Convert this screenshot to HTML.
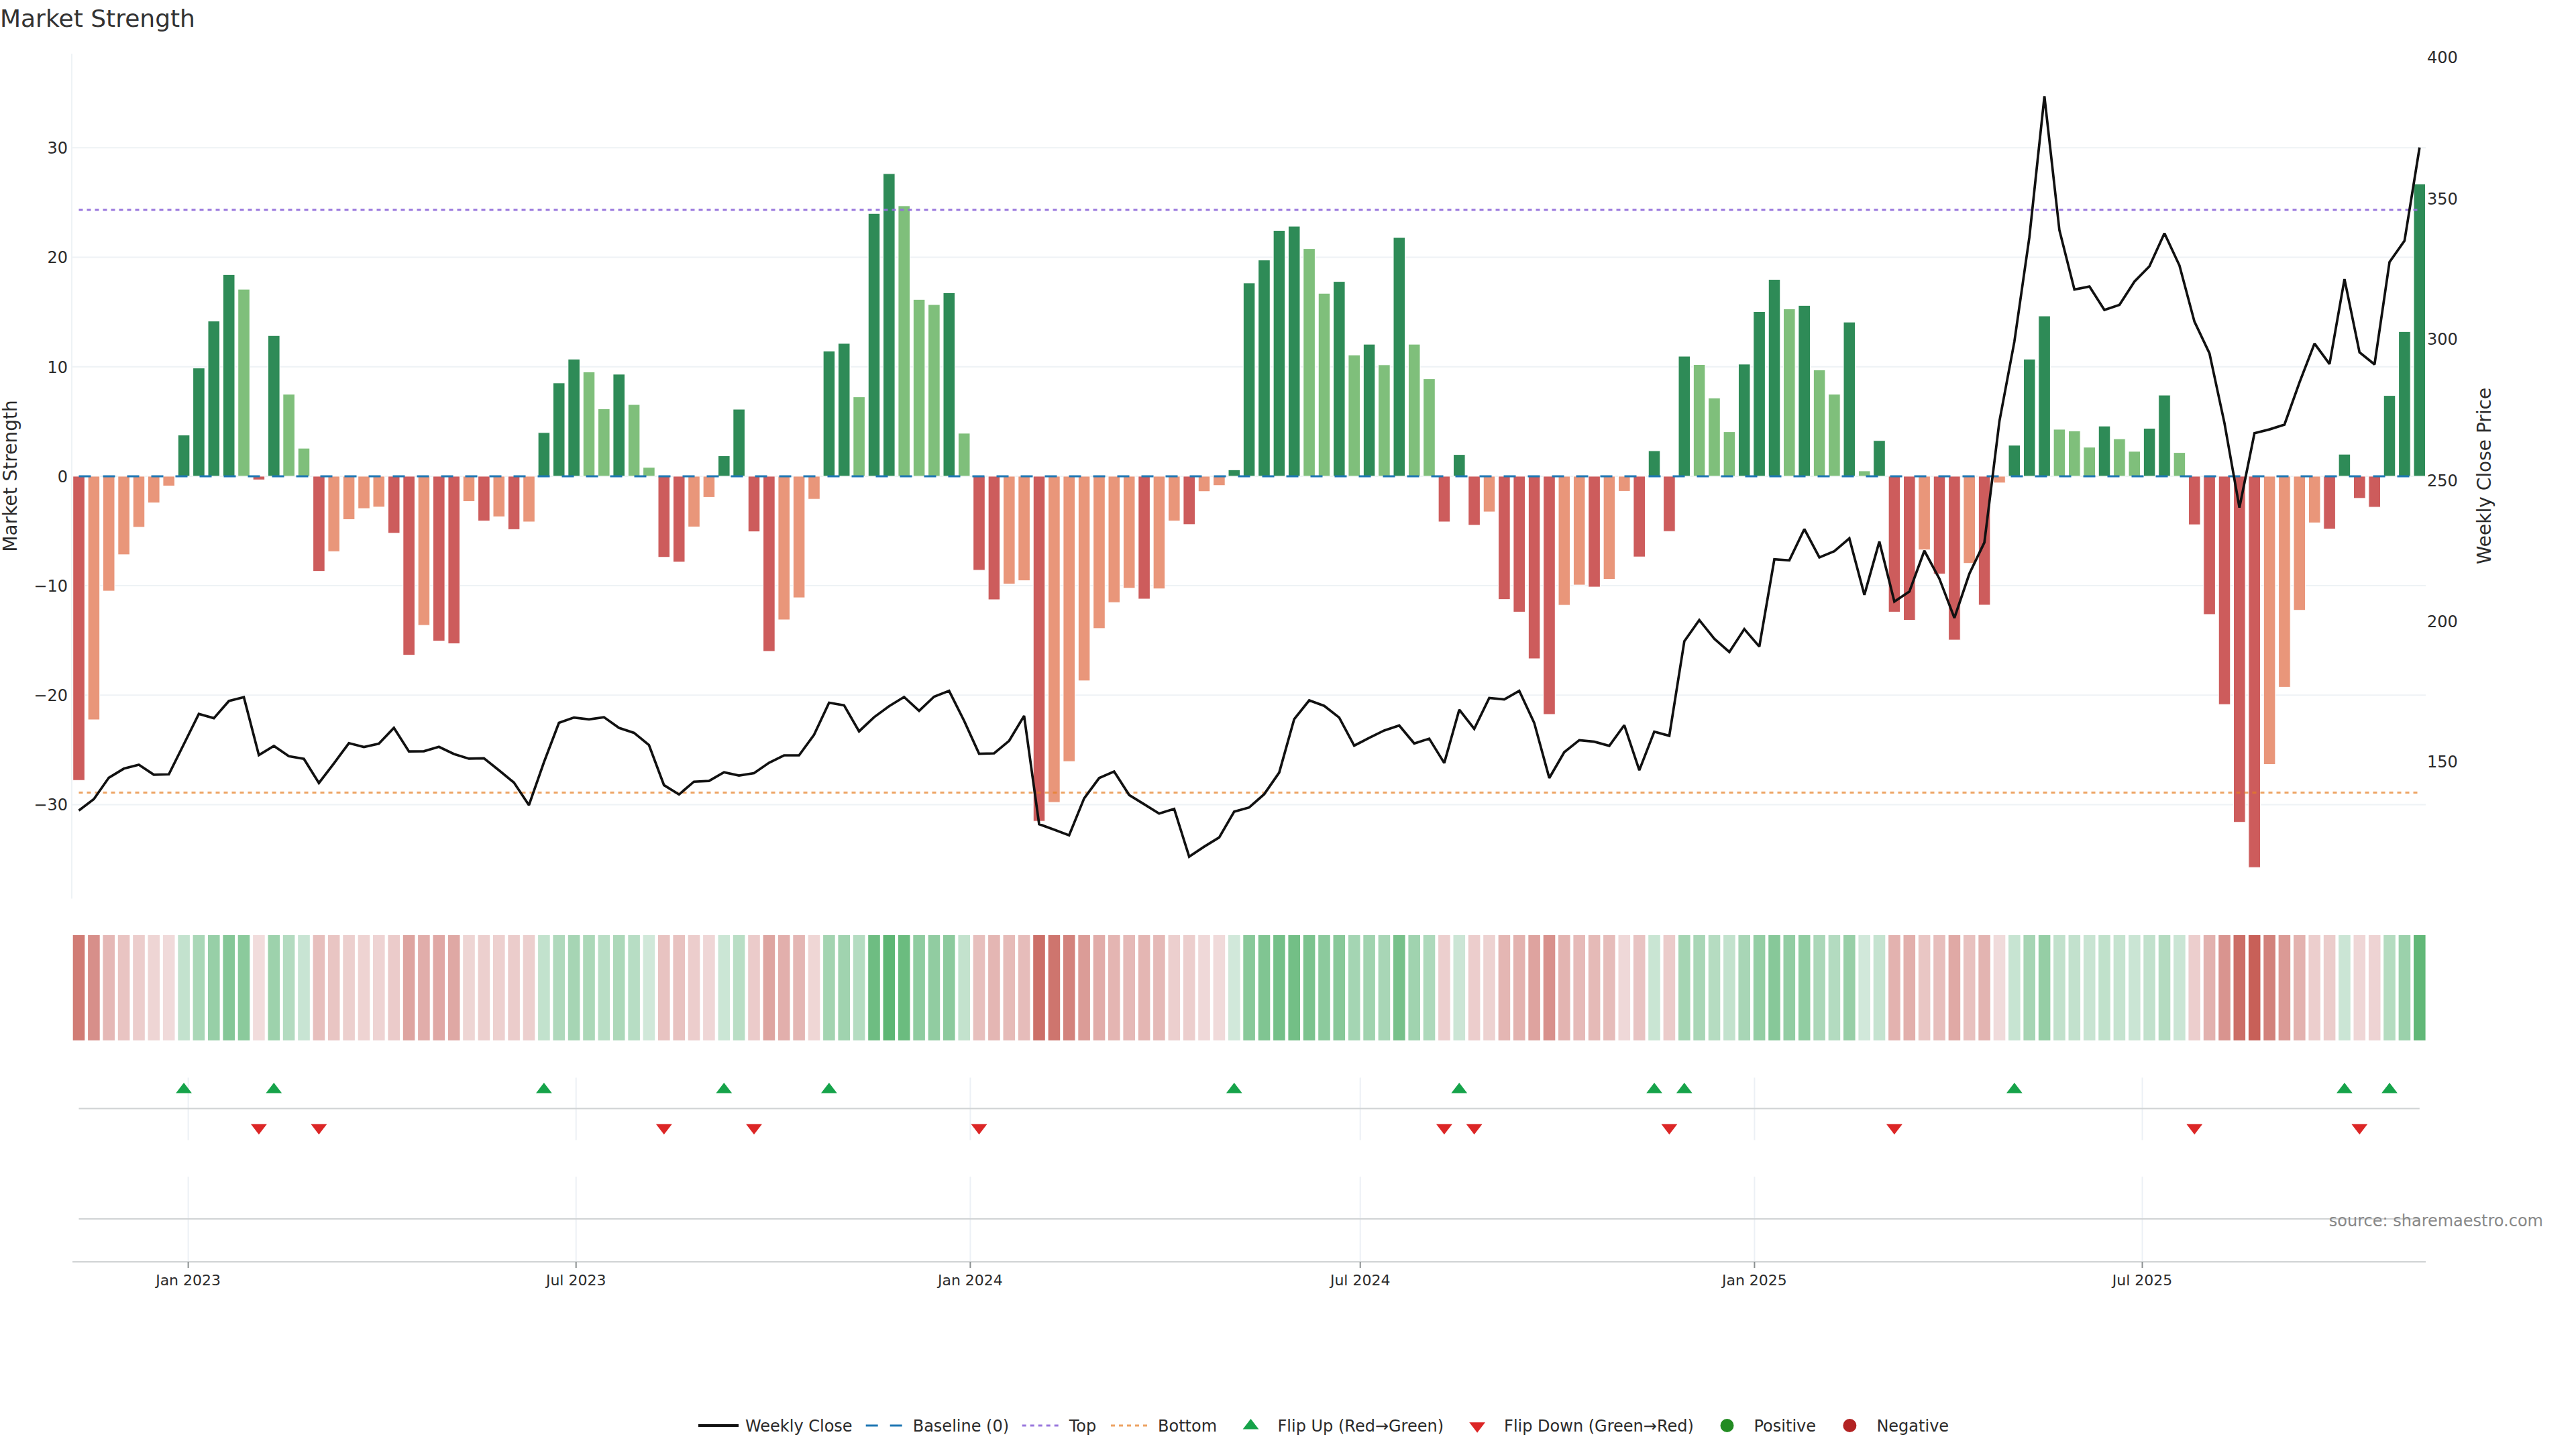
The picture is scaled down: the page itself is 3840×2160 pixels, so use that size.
<!DOCTYPE html>
<html><head><meta charset="utf-8"><title>Market Strength</title>
<style>html,body{margin:0;padding:0;background:#fff}svg{display:block}text{font-family:"DejaVu Sans","Liberation Sans",sans-serif}</style></head>
<body>
<svg width="3840" height="2160" viewBox="0 0 3840 2160">
<rect width="3840" height="2160" fill="#fff"/>
<text x="0" y="40" font-size="36" fill="#333">Market Strength</text>
<g stroke="#eef2f5" stroke-width="2">
<line x1="107" x2="3616" y1="1199.5" y2="1199.5"/>
<line x1="107" x2="3616" y1="1036.3" y2="1036.3"/>
<line x1="107" x2="3616" y1="873.1" y2="873.1"/>
<line x1="107" x2="3616" y1="709.9" y2="709.9"/>
<line x1="107" x2="3616" y1="546.7" y2="546.7"/>
<line x1="107" x2="3616" y1="383.5" y2="383.5"/>
<line x1="107" x2="3616" y1="220.3" y2="220.3"/>
<line x1="107" x2="107" y1="80" y2="1339.6"/>
</g>
<g stroke="#fff" stroke-width="1">
<rect x="108.7" y="709.9" width="17.6" height="453.4" fill="#cd5c5c"/>
<rect x="131.1" y="709.9" width="17.6" height="363.1" fill="#e9967a"/>
<rect x="153.4" y="709.9" width="17.6" height="171.2" fill="#e9967a"/>
<rect x="175.8" y="709.9" width="17.6" height="117.0" fill="#e9967a"/>
<rect x="198.2" y="709.9" width="17.6" height="76.1" fill="#e9967a"/>
<rect x="220.5" y="709.9" width="17.6" height="39.8" fill="#e9967a"/>
<rect x="242.9" y="709.9" width="17.6" height="14.5" fill="#e9967a"/>
<rect x="265.3" y="648.5" width="17.6" height="61.4" fill="#2e8b57"/>
<rect x="287.6" y="548.6" width="17.6" height="161.3" fill="#2e8b57"/>
<rect x="310.0" y="478.6" width="17.6" height="231.3" fill="#2e8b57"/>
<rect x="332.4" y="409.3" width="17.6" height="300.6" fill="#2e8b57"/>
<rect x="354.7" y="431.1" width="17.6" height="278.8" fill="#7fbf7b"/>
<rect x="377.1" y="709.9" width="17.6" height="5.4" fill="#cd5c5c"/>
<rect x="399.5" y="500.2" width="17.6" height="209.7" fill="#2e8b57"/>
<rect x="421.8" y="587.7" width="17.6" height="122.2" fill="#7fbf7b"/>
<rect x="444.2" y="668.1" width="17.6" height="41.8" fill="#7fbf7b"/>
<rect x="466.6" y="709.9" width="17.6" height="141.8" fill="#cd5c5c"/>
<rect x="488.9" y="709.9" width="17.6" height="112.3" fill="#e9967a"/>
<rect x="511.3" y="709.9" width="17.6" height="64.6" fill="#e9967a"/>
<rect x="533.7" y="709.9" width="17.6" height="48.2" fill="#e9967a"/>
<rect x="556.0" y="709.9" width="17.6" height="46.0" fill="#e9967a"/>
<rect x="578.4" y="709.9" width="17.6" height="85.0" fill="#cd5c5c"/>
<rect x="600.8" y="709.9" width="17.6" height="266.8" fill="#cd5c5c"/>
<rect x="623.1" y="709.9" width="17.6" height="222.3" fill="#e9967a"/>
<rect x="645.5" y="709.9" width="17.6" height="245.8" fill="#cd5c5c"/>
<rect x="667.9" y="709.9" width="17.6" height="249.7" fill="#cd5c5c"/>
<rect x="690.2" y="709.9" width="17.6" height="37.7" fill="#e9967a"/>
<rect x="712.6" y="709.9" width="17.6" height="66.8" fill="#cd5c5c"/>
<rect x="735.0" y="709.9" width="17.6" height="60.4" fill="#e9967a"/>
<rect x="757.3" y="709.9" width="17.6" height="79.5" fill="#cd5c5c"/>
<rect x="779.7" y="709.9" width="17.6" height="68.1" fill="#e9967a"/>
<rect x="802.1" y="644.8" width="17.6" height="65.1" fill="#2e8b57"/>
<rect x="824.4" y="570.8" width="17.6" height="139.1" fill="#2e8b57"/>
<rect x="846.8" y="535.3" width="17.6" height="174.6" fill="#2e8b57"/>
<rect x="869.2" y="554.4" width="17.6" height="155.5" fill="#7fbf7b"/>
<rect x="891.5" y="609.4" width="17.6" height="100.5" fill="#7fbf7b"/>
<rect x="913.9" y="557.8" width="17.6" height="152.1" fill="#2e8b57"/>
<rect x="936.3" y="603.0" width="17.6" height="106.9" fill="#7fbf7b"/>
<rect x="958.6" y="696.7" width="17.6" height="13.2" fill="#7fbf7b"/>
<rect x="981.0" y="709.9" width="17.6" height="120.9" fill="#cd5c5c"/>
<rect x="1003.4" y="709.9" width="17.6" height="128.0" fill="#cd5c5c"/>
<rect x="1025.7" y="709.9" width="17.6" height="75.6" fill="#e9967a"/>
<rect x="1048.1" y="709.9" width="17.6" height="31.5" fill="#e9967a"/>
<rect x="1070.5" y="679.5" width="17.6" height="30.4" fill="#2e8b57"/>
<rect x="1092.8" y="610.0" width="17.6" height="99.9" fill="#2e8b57"/>
<rect x="1115.2" y="709.9" width="17.6" height="82.8" fill="#cd5c5c"/>
<rect x="1137.6" y="709.9" width="17.6" height="261.1" fill="#cd5c5c"/>
<rect x="1159.9" y="709.9" width="17.6" height="214.1" fill="#e9967a"/>
<rect x="1182.3" y="709.9" width="17.6" height="181.2" fill="#e9967a"/>
<rect x="1204.7" y="709.9" width="17.6" height="34.3" fill="#e9967a"/>
<rect x="1227.1" y="523.2" width="17.6" height="186.7" fill="#2e8b57"/>
<rect x="1249.4" y="511.9" width="17.6" height="198.0" fill="#2e8b57"/>
<rect x="1271.8" y="591.6" width="17.6" height="118.3" fill="#7fbf7b"/>
<rect x="1294.2" y="318.2" width="17.6" height="391.7" fill="#2e8b57"/>
<rect x="1316.5" y="258.8" width="17.6" height="451.1" fill="#2e8b57"/>
<rect x="1338.9" y="306.8" width="17.6" height="403.1" fill="#7fbf7b"/>
<rect x="1361.3" y="446.3" width="17.6" height="263.6" fill="#7fbf7b"/>
<rect x="1383.6" y="454.0" width="17.6" height="255.9" fill="#7fbf7b"/>
<rect x="1406.0" y="436.5" width="17.6" height="273.4" fill="#2e8b57"/>
<rect x="1428.4" y="645.8" width="17.6" height="64.1" fill="#7fbf7b"/>
<rect x="1450.7" y="709.9" width="17.6" height="140.2" fill="#cd5c5c"/>
<rect x="1473.1" y="709.9" width="17.6" height="184.1" fill="#cd5c5c"/>
<rect x="1495.5" y="709.9" width="17.6" height="160.8" fill="#e9967a"/>
<rect x="1517.8" y="709.9" width="17.6" height="155.7" fill="#e9967a"/>
<rect x="1540.2" y="709.9" width="17.6" height="514.3" fill="#cd5c5c"/>
<rect x="1562.6" y="709.9" width="17.6" height="486.2" fill="#e9967a"/>
<rect x="1584.9" y="709.9" width="17.6" height="425.3" fill="#e9967a"/>
<rect x="1607.3" y="709.9" width="17.6" height="305.0" fill="#e9967a"/>
<rect x="1629.7" y="709.9" width="17.6" height="227.0" fill="#e9967a"/>
<rect x="1652.0" y="709.9" width="17.6" height="188.3" fill="#e9967a"/>
<rect x="1674.4" y="709.9" width="17.6" height="167.0" fill="#e9967a"/>
<rect x="1696.8" y="709.9" width="17.6" height="183.1" fill="#cd5c5c"/>
<rect x="1719.1" y="709.9" width="17.6" height="167.9" fill="#e9967a"/>
<rect x="1741.5" y="709.9" width="17.6" height="66.8" fill="#e9967a"/>
<rect x="1763.9" y="709.9" width="17.6" height="72.0" fill="#cd5c5c"/>
<rect x="1786.2" y="709.9" width="17.6" height="22.9" fill="#e9967a"/>
<rect x="1808.6" y="709.9" width="17.6" height="13.9" fill="#e9967a"/>
<rect x="1831.0" y="700.3" width="17.6" height="9.6" fill="#2e8b57"/>
<rect x="1853.3" y="421.8" width="17.6" height="288.1" fill="#2e8b57"/>
<rect x="1875.7" y="387.6" width="17.6" height="322.3" fill="#2e8b57"/>
<rect x="1898.1" y="343.5" width="17.6" height="366.4" fill="#2e8b57"/>
<rect x="1920.4" y="337.1" width="17.6" height="372.8" fill="#2e8b57"/>
<rect x="1942.8" y="370.6" width="17.6" height="339.3" fill="#7fbf7b"/>
<rect x="1965.2" y="437.2" width="17.6" height="272.7" fill="#7fbf7b"/>
<rect x="1987.5" y="419.6" width="17.6" height="290.3" fill="#2e8b57"/>
<rect x="2009.9" y="529.1" width="17.6" height="180.8" fill="#7fbf7b"/>
<rect x="2032.3" y="513.1" width="17.6" height="196.8" fill="#2e8b57"/>
<rect x="2054.6" y="543.8" width="17.6" height="166.1" fill="#7fbf7b"/>
<rect x="2077.0" y="354.0" width="17.6" height="355.9" fill="#2e8b57"/>
<rect x="2099.4" y="513.1" width="17.6" height="196.8" fill="#7fbf7b"/>
<rect x="2121.7" y="564.6" width="17.6" height="145.3" fill="#7fbf7b"/>
<rect x="2144.1" y="709.9" width="17.6" height="68.1" fill="#cd5c5c"/>
<rect x="2166.5" y="677.6" width="17.6" height="32.3" fill="#2e8b57"/>
<rect x="2188.8" y="709.9" width="17.6" height="73.1" fill="#cd5c5c"/>
<rect x="2211.2" y="709.9" width="17.6" height="53.2" fill="#e9967a"/>
<rect x="2233.6" y="709.9" width="17.6" height="183.8" fill="#cd5c5c"/>
<rect x="2255.9" y="709.9" width="17.6" height="202.5" fill="#cd5c5c"/>
<rect x="2278.3" y="709.9" width="17.6" height="272.1" fill="#cd5c5c"/>
<rect x="2300.7" y="709.9" width="17.6" height="355.1" fill="#cd5c5c"/>
<rect x="2323.0" y="709.9" width="17.6" height="192.3" fill="#e9967a"/>
<rect x="2345.4" y="709.9" width="17.6" height="162.2" fill="#e9967a"/>
<rect x="2367.8" y="709.9" width="17.6" height="165.2" fill="#cd5c5c"/>
<rect x="2390.1" y="709.9" width="17.6" height="153.7" fill="#e9967a"/>
<rect x="2412.5" y="709.9" width="17.6" height="22.5" fill="#e9967a"/>
<rect x="2434.9" y="709.9" width="17.6" height="120.3" fill="#cd5c5c"/>
<rect x="2457.2" y="671.9" width="17.6" height="38.0" fill="#2e8b57"/>
<rect x="2479.6" y="709.9" width="17.6" height="82.3" fill="#cd5c5c"/>
<rect x="2502.0" y="531.0" width="17.6" height="178.9" fill="#2e8b57"/>
<rect x="2524.3" y="543.4" width="17.6" height="166.5" fill="#7fbf7b"/>
<rect x="2546.7" y="593.2" width="17.6" height="116.7" fill="#7fbf7b"/>
<rect x="2569.1" y="643.6" width="17.6" height="66.3" fill="#7fbf7b"/>
<rect x="2591.4" y="542.8" width="17.6" height="167.1" fill="#2e8b57"/>
<rect x="2613.8" y="464.4" width="17.6" height="245.5" fill="#2e8b57"/>
<rect x="2636.2" y="416.5" width="17.6" height="293.4" fill="#2e8b57"/>
<rect x="2658.5" y="460.4" width="17.6" height="249.5" fill="#7fbf7b"/>
<rect x="2680.9" y="455.3" width="17.6" height="254.6" fill="#2e8b57"/>
<rect x="2703.3" y="551.4" width="17.6" height="158.5" fill="#7fbf7b"/>
<rect x="2725.6" y="587.7" width="17.6" height="122.2" fill="#7fbf7b"/>
<rect x="2748.0" y="480.1" width="17.6" height="229.8" fill="#2e8b57"/>
<rect x="2770.4" y="701.9" width="17.6" height="8.0" fill="#7fbf7b"/>
<rect x="2792.7" y="656.7" width="17.6" height="53.2" fill="#2e8b57"/>
<rect x="2815.1" y="709.9" width="17.6" height="202.5" fill="#cd5c5c"/>
<rect x="2837.5" y="709.9" width="17.6" height="214.6" fill="#cd5c5c"/>
<rect x="2859.8" y="709.9" width="17.6" height="109.8" fill="#e9967a"/>
<rect x="2882.2" y="709.9" width="17.6" height="145.9" fill="#cd5c5c"/>
<rect x="2904.6" y="709.9" width="17.6" height="244.2" fill="#cd5c5c"/>
<rect x="2926.9" y="709.9" width="17.6" height="129.9" fill="#e9967a"/>
<rect x="2949.3" y="709.9" width="17.6" height="192.1" fill="#cd5c5c"/>
<rect x="2971.7" y="709.9" width="17.6" height="10.0" fill="#e9967a"/>
<rect x="2994.0" y="663.7" width="17.6" height="46.2" fill="#2e8b57"/>
<rect x="3016.4" y="535.3" width="17.6" height="174.6" fill="#2e8b57"/>
<rect x="3038.8" y="471.0" width="17.6" height="238.9" fill="#2e8b57"/>
<rect x="3061.1" y="639.9" width="17.6" height="70.0" fill="#7fbf7b"/>
<rect x="3083.5" y="642.3" width="17.6" height="67.6" fill="#7fbf7b"/>
<rect x="3105.9" y="666.6" width="17.6" height="43.3" fill="#7fbf7b"/>
<rect x="3128.2" y="635.1" width="17.6" height="74.8" fill="#2e8b57"/>
<rect x="3150.6" y="654.1" width="17.6" height="55.8" fill="#7fbf7b"/>
<rect x="3173.0" y="672.8" width="17.6" height="37.1" fill="#7fbf7b"/>
<rect x="3195.3" y="638.4" width="17.6" height="71.5" fill="#2e8b57"/>
<rect x="3217.7" y="589.0" width="17.6" height="120.9" fill="#2e8b57"/>
<rect x="3240.1" y="674.6" width="17.6" height="35.3" fill="#7fbf7b"/>
<rect x="3262.4" y="709.9" width="17.6" height="72.3" fill="#cd5c5c"/>
<rect x="3284.8" y="709.9" width="17.6" height="206.1" fill="#cd5c5c"/>
<rect x="3307.2" y="709.9" width="17.6" height="340.3" fill="#cd5c5c"/>
<rect x="3329.5" y="709.9" width="17.6" height="515.9" fill="#cd5c5c"/>
<rect x="3351.9" y="709.9" width="17.6" height="583.3" fill="#cd5c5c"/>
<rect x="3374.3" y="709.9" width="17.6" height="429.7" fill="#e9967a"/>
<rect x="3396.6" y="709.9" width="17.6" height="314.5" fill="#e9967a"/>
<rect x="3419.0" y="709.9" width="17.6" height="199.9" fill="#e9967a"/>
<rect x="3441.4" y="709.9" width="17.6" height="69.5" fill="#e9967a"/>
<rect x="3463.8" y="709.9" width="17.6" height="78.8" fill="#cd5c5c"/>
<rect x="3486.1" y="677.1" width="17.6" height="32.8" fill="#2e8b57"/>
<rect x="3508.5" y="709.9" width="17.6" height="33.0" fill="#cd5c5c"/>
<rect x="3530.9" y="709.9" width="17.6" height="46.2" fill="#cd5c5c"/>
<rect x="3553.2" y="589.6" width="17.6" height="120.3" fill="#2e8b57"/>
<rect x="3575.6" y="494.3" width="17.6" height="215.6" fill="#2e8b57"/>
<rect x="3598.0" y="274.1" width="17.6" height="435.8" fill="#2e8b57"/>
</g>
<line x1="117.5" x2="3606.8" y1="709.9" y2="709.9" stroke="#1f77b4" stroke-width="3" stroke-dasharray="18 18"/>
<line x1="117.5" x2="3606.8" y1="312.8" y2="312.8" stroke="#9370db" stroke-opacity="0.95" stroke-width="3" stroke-dasharray="6 6"/>
<line x1="117.5" x2="3606.8" y1="1181.6" y2="1181.6" stroke="#e67e22" stroke-opacity="0.7" stroke-width="3" stroke-dasharray="6 6"/>
<polyline points="117.5,1208.2 139.9,1191.3 162.2,1159.3 184.6,1145.8 207.0,1139.9 229.3,1154.8 251.7,1154.3 274.1,1109.3 296.4,1064.1 318.8,1070.6 341.2,1045.0 363.5,1039.3 385.9,1125.7 408.3,1112.0 430.6,1127.2 453.0,1131.2 475.4,1167.2 497.7,1138.1 520.1,1107.8 542.5,1113.5 564.8,1108.6 587.2,1085.0 609.6,1120.2 631.9,1119.8 654.3,1113.3 676.7,1124.0 699.0,1130.9 721.4,1130.4 743.8,1148.3 766.1,1166.5 788.5,1200.2 810.9,1136.1 833.2,1077.5 855.6,1069.6 878.0,1072.3 900.3,1069.1 922.7,1085.0 945.1,1092.4 967.4,1110.6 989.8,1170.4 1012.2,1184.3 1034.5,1165.2 1056.9,1164.2 1079.3,1151.1 1101.6,1156.0 1124.0,1152.5 1146.4,1137.1 1168.7,1126.0 1191.1,1126.0 1213.5,1095.4 1235.9,1047.5 1258.2,1051.4 1280.6,1090.2 1303.0,1069.1 1325.3,1052.7 1347.7,1039.0 1370.1,1059.6 1392.4,1038.5 1414.8,1029.8 1437.2,1074.5 1459.5,1123.5 1481.9,1123.0 1504.3,1104.3 1526.6,1067.1 1549.0,1228.6 1571.4,1236.8 1593.7,1245.2 1616.1,1190.1 1638.5,1159.8 1660.8,1150.1 1683.2,1185.1 1705.6,1198.8 1727.9,1212.7 1750.3,1205.7 1772.7,1277.0 1795.0,1262.1 1817.4,1248.4 1839.8,1209.9 1862.1,1203.7 1884.5,1183.9 1906.9,1151.6 1929.2,1072.0 1951.6,1044.0 1974.0,1052.2 1996.3,1069.6 2018.7,1111.5 2041.1,1099.9 2063.4,1088.9 2085.8,1081.5 2108.2,1108.3 2130.5,1101.1 2152.9,1137.4 2175.3,1057.9 2197.6,1086.5 2220.0,1040.5 2242.4,1042.5 2264.7,1029.8 2287.1,1077.8 2309.5,1159.8 2331.8,1121.2 2354.2,1103.4 2376.6,1105.6 2398.9,1111.8 2421.3,1081.0 2443.7,1148.1 2466.0,1090.7 2488.4,1096.9 2510.8,955.9 2533.1,924.3 2555.5,952.2 2577.9,972.0 2600.2,937.8 2622.6,963.9 2645.0,833.7 2667.3,835.4 2689.7,788.7 2712.1,830.9 2734.4,821.7 2756.8,802.6 2779.2,886.8 2801.5,807.3 2823.9,896.8 2846.3,881.9 2868.6,821.0 2891.0,862.7 2913.4,921.1 2935.7,855.3 2958.1,808.6 2980.5,628.0 3002.8,509.3 3025.2,353.3 3047.6,143.4 3069.9,342.9 3092.3,431.6 3114.7,427.1 3137.0,462.0 3159.4,454.5 3181.8,419.7 3204.1,397.0 3226.5,347.8 3248.9,395.8 3271.2,479.4 3293.6,526.6 3316.0,630.9 3338.3,756.6 3360.7,645.8 3383.1,640.1 3405.4,632.9 3427.8,570.1 3450.2,512.2 3472.6,542.7 3494.9,416.0 3517.3,525.3 3539.7,543.2 3562.0,390.8 3584.4,358.9 3606.8,219.9" fill="none" stroke="#111" stroke-width="3.7" stroke-linejoin="miter" stroke-miterlimit="2" stroke-linecap="butt"/>
<g font-size="24" fill="#2b2b2b" text-anchor="end">
<text x="101" y="1208.3">−30</text>
<text x="101" y="1045.1">−20</text>
<text x="101" y="881.9">−10</text>
<text x="101" y="718.7">0</text>
<text x="101" y="555.5">10</text>
<text x="101" y="392.3">20</text>
<text x="101" y="229.1">30</text>
</g>
<g font-size="24" fill="#2b2b2b">
<text x="3618" y="93.8">400</text>
<text x="3618" y="305.1">350</text>
<text x="3618" y="514.3">300</text>
<text x="3618" y="724.9">250</text>
<text x="3618" y="934.8">200</text>
<text x="3618" y="1144.4">150</text>
</g>
<text transform="translate(25,709.5) rotate(-90)" font-size="28" fill="#2b2b2b" text-anchor="middle">Market Strength</text>
<text transform="translate(3713,709.5) rotate(-90)" font-size="28" fill="#2b2b2b" text-anchor="middle">Weekly Close Price</text>
<g>
<rect x="108.7" y="1394" width="17.6" height="156.9" fill="rgb(209,124,117)"/>
<rect x="131.1" y="1394" width="17.6" height="156.9" fill="rgb(215,143,138)"/>
<rect x="153.4" y="1394" width="17.6" height="156.9" fill="rgb(229,184,182)"/>
<rect x="175.8" y="1394" width="17.6" height="156.9" fill="rgb(233,196,194)"/>
<rect x="198.2" y="1394" width="17.6" height="156.9" fill="rgb(236,205,204)"/>
<rect x="220.5" y="1394" width="17.6" height="156.9" fill="rgb(238,213,212)"/>
<rect x="242.9" y="1394" width="17.6" height="156.9" fill="rgb(240,218,218)"/>
<rect x="265.3" y="1394" width="17.6" height="156.9" fill="rgb(195,226,206)"/>
<rect x="287.6" y="1394" width="17.6" height="156.9" fill="rgb(169,215,183)"/>
<rect x="310.0" y="1394" width="17.6" height="156.9" fill="rgb(151,207,167)"/>
<rect x="332.4" y="1394" width="17.6" height="156.9" fill="rgb(133,199,151)"/>
<rect x="354.7" y="1394" width="17.6" height="156.9" fill="rgb(139,202,156)"/>
<rect x="377.1" y="1394" width="17.6" height="156.9" fill="rgb(241,220,220)"/>
<rect x="399.5" y="1394" width="17.6" height="156.9" fill="rgb(157,210,172)"/>
<rect x="421.8" y="1394" width="17.6" height="156.9" fill="rgb(179,219,192)"/>
<rect x="444.2" y="1394" width="17.6" height="156.9" fill="rgb(200,228,211)"/>
<rect x="466.6" y="1394" width="17.6" height="156.9" fill="rgb(231,191,189)"/>
<rect x="488.9" y="1394" width="17.6" height="156.9" fill="rgb(233,197,195)"/>
<rect x="511.3" y="1394" width="17.6" height="156.9" fill="rgb(236,207,206)"/>
<rect x="533.7" y="1394" width="17.6" height="156.9" fill="rgb(238,211,210)"/>
<rect x="556.0" y="1394" width="17.6" height="156.9" fill="rgb(238,211,211)"/>
<rect x="578.4" y="1394" width="17.6" height="156.9" fill="rgb(235,203,202)"/>
<rect x="600.8" y="1394" width="17.6" height="156.9" fill="rgb(222,164,160)"/>
<rect x="623.1" y="1394" width="17.6" height="156.9" fill="rgb(225,173,170)"/>
<rect x="645.5" y="1394" width="17.6" height="156.9" fill="rgb(224,168,165)"/>
<rect x="667.9" y="1394" width="17.6" height="156.9" fill="rgb(223,168,164)"/>
<rect x="690.2" y="1394" width="17.6" height="156.9" fill="rgb(238,213,212)"/>
<rect x="712.6" y="1394" width="17.6" height="156.9" fill="rgb(236,207,206)"/>
<rect x="735.0" y="1394" width="17.6" height="156.9" fill="rgb(237,208,207)"/>
<rect x="757.3" y="1394" width="17.6" height="156.9" fill="rgb(235,204,203)"/>
<rect x="779.7" y="1394" width="17.6" height="156.9" fill="rgb(236,207,206)"/>
<rect x="802.1" y="1394" width="17.6" height="156.9" fill="rgb(194,226,205)"/>
<rect x="824.4" y="1394" width="17.6" height="156.9" fill="rgb(175,217,188)"/>
<rect x="846.8" y="1394" width="17.6" height="156.9" fill="rgb(166,213,180)"/>
<rect x="869.2" y="1394" width="17.6" height="156.9" fill="rgb(171,216,184)"/>
<rect x="891.5" y="1394" width="17.6" height="156.9" fill="rgb(185,222,197)"/>
<rect x="913.9" y="1394" width="17.6" height="156.9" fill="rgb(172,216,185)"/>
<rect x="936.3" y="1394" width="17.6" height="156.9" fill="rgb(183,221,196)"/>
<rect x="958.6" y="1394" width="17.6" height="156.9" fill="rgb(208,232,217)"/>
<rect x="981.0" y="1394" width="17.6" height="156.9" fill="rgb(232,195,193)"/>
<rect x="1003.4" y="1394" width="17.6" height="156.9" fill="rgb(232,194,192)"/>
<rect x="1025.7" y="1394" width="17.6" height="156.9" fill="rgb(236,205,204)"/>
<rect x="1048.1" y="1394" width="17.6" height="156.9" fill="rgb(239,214,214)"/>
<rect x="1070.5" y="1394" width="17.6" height="156.9" fill="rgb(203,230,213)"/>
<rect x="1092.8" y="1394" width="17.6" height="156.9" fill="rgb(185,222,197)"/>
<rect x="1115.2" y="1394" width="17.6" height="156.9" fill="rgb(235,203,202)"/>
<rect x="1137.6" y="1394" width="17.6" height="156.9" fill="rgb(222,165,161)"/>
<rect x="1159.9" y="1394" width="17.6" height="156.9" fill="rgb(226,175,172)"/>
<rect x="1182.3" y="1394" width="17.6" height="156.9" fill="rgb(228,182,180)"/>
<rect x="1204.7" y="1394" width="17.6" height="156.9" fill="rgb(239,214,213)"/>
<rect x="1227.1" y="1394" width="17.6" height="156.9" fill="rgb(163,212,177)"/>
<rect x="1249.4" y="1394" width="17.6" height="156.9" fill="rgb(160,211,175)"/>
<rect x="1271.8" y="1394" width="17.6" height="156.9" fill="rgb(180,220,193)"/>
<rect x="1294.2" y="1394" width="17.6" height="156.9" fill="rgb(110,189,130)"/>
<rect x="1316.5" y="1394" width="17.6" height="156.9" fill="rgb(94,182,116)"/>
<rect x="1338.9" y="1394" width="17.6" height="156.9" fill="rgb(107,188,127)"/>
<rect x="1361.3" y="1394" width="17.6" height="156.9" fill="rgb(143,204,160)"/>
<rect x="1383.6" y="1394" width="17.6" height="156.9" fill="rgb(145,204,161)"/>
<rect x="1406.0" y="1394" width="17.6" height="156.9" fill="rgb(140,202,157)"/>
<rect x="1428.4" y="1394" width="17.6" height="156.9" fill="rgb(195,226,205)"/>
<rect x="1450.7" y="1394" width="17.6" height="156.9" fill="rgb(231,191,189)"/>
<rect x="1473.1" y="1394" width="17.6" height="156.9" fill="rgb(228,182,179)"/>
<rect x="1495.5" y="1394" width="17.6" height="156.9" fill="rgb(230,187,184)"/>
<rect x="1517.8" y="1394" width="17.6" height="156.9" fill="rgb(230,188,186)"/>
<rect x="1540.2" y="1394" width="17.6" height="156.9" fill="rgb(204,111,104)"/>
<rect x="1562.6" y="1394" width="17.6" height="156.9" fill="rgb(206,117,110)"/>
<rect x="1584.9" y="1394" width="17.6" height="156.9" fill="rgb(211,130,124)"/>
<rect x="1607.3" y="1394" width="17.6" height="156.9" fill="rgb(219,156,151)"/>
<rect x="1629.7" y="1394" width="17.6" height="156.9" fill="rgb(225,172,169)"/>
<rect x="1652.0" y="1394" width="17.6" height="156.9" fill="rgb(228,181,178)"/>
<rect x="1674.4" y="1394" width="17.6" height="156.9" fill="rgb(229,185,183)"/>
<rect x="1696.8" y="1394" width="17.6" height="156.9" fill="rgb(228,182,179)"/>
<rect x="1719.1" y="1394" width="17.6" height="156.9" fill="rgb(229,185,183)"/>
<rect x="1741.5" y="1394" width="17.6" height="156.9" fill="rgb(236,207,206)"/>
<rect x="1763.9" y="1394" width="17.6" height="156.9" fill="rgb(236,206,205)"/>
<rect x="1786.2" y="1394" width="17.6" height="156.9" fill="rgb(239,216,216)"/>
<rect x="1808.6" y="1394" width="17.6" height="156.9" fill="rgb(240,218,218)"/>
<rect x="1831.0" y="1394" width="17.6" height="156.9" fill="rgb(209,232,218)"/>
<rect x="1853.3" y="1394" width="17.6" height="156.9" fill="rgb(136,201,154)"/>
<rect x="1875.7" y="1394" width="17.6" height="156.9" fill="rgb(128,197,146)"/>
<rect x="1898.1" y="1394" width="17.6" height="156.9" fill="rgb(116,192,136)"/>
<rect x="1920.4" y="1394" width="17.6" height="156.9" fill="rgb(115,191,134)"/>
<rect x="1942.8" y="1394" width="17.6" height="156.9" fill="rgb(123,195,142)"/>
<rect x="1965.2" y="1394" width="17.6" height="156.9" fill="rgb(140,202,157)"/>
<rect x="1987.5" y="1394" width="17.6" height="156.9" fill="rgb(136,200,153)"/>
<rect x="2009.9" y="1394" width="17.6" height="156.9" fill="rgb(164,213,179)"/>
<rect x="2032.3" y="1394" width="17.6" height="156.9" fill="rgb(160,211,175)"/>
<rect x="2054.6" y="1394" width="17.6" height="156.9" fill="rgb(168,214,182)"/>
<rect x="2077.0" y="1394" width="17.6" height="156.9" fill="rgb(119,193,138)"/>
<rect x="2099.4" y="1394" width="17.6" height="156.9" fill="rgb(160,211,175)"/>
<rect x="2121.7" y="1394" width="17.6" height="156.9" fill="rgb(173,217,187)"/>
<rect x="2144.1" y="1394" width="17.6" height="156.9" fill="rgb(236,207,206)"/>
<rect x="2166.5" y="1394" width="17.6" height="156.9" fill="rgb(203,229,213)"/>
<rect x="2188.8" y="1394" width="17.6" height="156.9" fill="rgb(236,205,204)"/>
<rect x="2211.2" y="1394" width="17.6" height="156.9" fill="rgb(237,210,209)"/>
<rect x="2233.6" y="1394" width="17.6" height="156.9" fill="rgb(228,182,179)"/>
<rect x="2255.9" y="1394" width="17.6" height="156.9" fill="rgb(227,178,175)"/>
<rect x="2278.3" y="1394" width="17.6" height="156.9" fill="rgb(222,163,159)"/>
<rect x="2300.7" y="1394" width="17.6" height="156.9" fill="rgb(216,145,140)"/>
<rect x="2323.0" y="1394" width="17.6" height="156.9" fill="rgb(227,180,177)"/>
<rect x="2345.4" y="1394" width="17.6" height="156.9" fill="rgb(230,186,184)"/>
<rect x="2367.8" y="1394" width="17.6" height="156.9" fill="rgb(229,186,183)"/>
<rect x="2390.1" y="1394" width="17.6" height="156.9" fill="rgb(230,188,186)"/>
<rect x="2412.5" y="1394" width="17.6" height="156.9" fill="rgb(239,216,216)"/>
<rect x="2434.9" y="1394" width="17.6" height="156.9" fill="rgb(232,195,194)"/>
<rect x="2457.2" y="1394" width="17.6" height="156.9" fill="rgb(201,229,211)"/>
<rect x="2479.6" y="1394" width="17.6" height="156.9" fill="rgb(235,203,202)"/>
<rect x="2502.0" y="1394" width="17.6" height="156.9" fill="rgb(165,213,179)"/>
<rect x="2524.3" y="1394" width="17.6" height="156.9" fill="rgb(168,214,182)"/>
<rect x="2546.7" y="1394" width="17.6" height="156.9" fill="rgb(181,220,193)"/>
<rect x="2569.1" y="1394" width="17.6" height="156.9" fill="rgb(194,226,205)"/>
<rect x="2591.4" y="1394" width="17.6" height="156.9" fill="rgb(168,214,182)"/>
<rect x="2613.8" y="1394" width="17.6" height="156.9" fill="rgb(148,206,164)"/>
<rect x="2636.2" y="1394" width="17.6" height="156.9" fill="rgb(135,200,153)"/>
<rect x="2658.5" y="1394" width="17.6" height="156.9" fill="rgb(146,205,163)"/>
<rect x="2680.9" y="1394" width="17.6" height="156.9" fill="rgb(145,205,162)"/>
<rect x="2703.3" y="1394" width="17.6" height="156.9" fill="rgb(170,215,184)"/>
<rect x="2725.6" y="1394" width="17.6" height="156.9" fill="rgb(179,219,192)"/>
<rect x="2748.0" y="1394" width="17.6" height="156.9" fill="rgb(152,207,167)"/>
<rect x="2770.4" y="1394" width="17.6" height="156.9" fill="rgb(209,232,218)"/>
<rect x="2792.7" y="1394" width="17.6" height="156.9" fill="rgb(197,227,208)"/>
<rect x="2815.1" y="1394" width="17.6" height="156.9" fill="rgb(227,178,175)"/>
<rect x="2837.5" y="1394" width="17.6" height="156.9" fill="rgb(226,175,172)"/>
<rect x="2859.8" y="1394" width="17.6" height="156.9" fill="rgb(233,198,196)"/>
<rect x="2882.2" y="1394" width="17.6" height="156.9" fill="rgb(231,190,188)"/>
<rect x="2904.6" y="1394" width="17.6" height="156.9" fill="rgb(224,169,165)"/>
<rect x="2926.9" y="1394" width="17.6" height="156.9" fill="rgb(232,193,191)"/>
<rect x="2949.3" y="1394" width="17.6" height="156.9" fill="rgb(227,180,177)"/>
<rect x="2971.7" y="1394" width="17.6" height="156.9" fill="rgb(240,219,219)"/>
<rect x="2994.0" y="1394" width="17.6" height="156.9" fill="rgb(199,228,210)"/>
<rect x="3016.4" y="1394" width="17.6" height="156.9" fill="rgb(166,213,180)"/>
<rect x="3038.8" y="1394" width="17.6" height="156.9" fill="rgb(149,206,165)"/>
<rect x="3061.1" y="1394" width="17.6" height="156.9" fill="rgb(193,225,204)"/>
<rect x="3083.5" y="1394" width="17.6" height="156.9" fill="rgb(194,225,205)"/>
<rect x="3105.9" y="1394" width="17.6" height="156.9" fill="rgb(200,228,210)"/>
<rect x="3128.2" y="1394" width="17.6" height="156.9" fill="rgb(192,225,203)"/>
<rect x="3150.6" y="1394" width="17.6" height="156.9" fill="rgb(197,227,207)"/>
<rect x="3173.0" y="1394" width="17.6" height="156.9" fill="rgb(202,229,212)"/>
<rect x="3195.3" y="1394" width="17.6" height="156.9" fill="rgb(193,225,204)"/>
<rect x="3217.7" y="1394" width="17.6" height="156.9" fill="rgb(180,219,192)"/>
<rect x="3240.1" y="1394" width="17.6" height="156.9" fill="rgb(202,229,212)"/>
<rect x="3262.4" y="1394" width="17.6" height="156.9" fill="rgb(236,206,205)"/>
<rect x="3284.8" y="1394" width="17.6" height="156.9" fill="rgb(226,177,174)"/>
<rect x="3307.2" y="1394" width="17.6" height="156.9" fill="rgb(217,148,143)"/>
<rect x="3329.5" y="1394" width="17.6" height="156.9" fill="rgb(204,110,103)"/>
<rect x="3351.9" y="1394" width="17.6" height="156.9" fill="rgb(200,96,88)"/>
<rect x="3374.3" y="1394" width="17.6" height="156.9" fill="rgb(210,129,123)"/>
<rect x="3396.6" y="1394" width="17.6" height="156.9" fill="rgb(219,154,149)"/>
<rect x="3419.0" y="1394" width="17.6" height="156.9" fill="rgb(227,178,175)"/>
<rect x="3441.4" y="1394" width="17.6" height="156.9" fill="rgb(236,206,205)"/>
<rect x="3463.8" y="1394" width="17.6" height="156.9" fill="rgb(235,204,203)"/>
<rect x="3486.1" y="1394" width="17.6" height="156.9" fill="rgb(203,229,213)"/>
<rect x="3508.5" y="1394" width="17.6" height="156.9" fill="rgb(239,214,214)"/>
<rect x="3530.9" y="1394" width="17.6" height="156.9" fill="rgb(238,211,211)"/>
<rect x="3553.2" y="1394" width="17.6" height="156.9" fill="rgb(180,220,192)"/>
<rect x="3575.6" y="1394" width="17.6" height="156.9" fill="rgb(155,209,171)"/>
<rect x="3598.0" y="1394" width="17.6" height="156.9" fill="rgb(98,184,120)"/>
</g>
<g stroke="#ecf0f5" stroke-width="2">
<line x1="280.6" x2="280.6" y1="1606.4" y2="1699.5"/>
<line x1="280.6" x2="280.6" y1="1754" y2="1881"/>
<line x1="858.7" x2="858.7" y1="1606.4" y2="1699.5"/>
<line x1="858.7" x2="858.7" y1="1754" y2="1881"/>
<line x1="1446.4" x2="1446.4" y1="1606.4" y2="1699.5"/>
<line x1="1446.4" x2="1446.4" y1="1754" y2="1881"/>
<line x1="2027.7" x2="2027.7" y1="1606.4" y2="1699.5"/>
<line x1="2027.7" x2="2027.7" y1="1754" y2="1881"/>
<line x1="2615.4" x2="2615.4" y1="1606.4" y2="1699.5"/>
<line x1="2615.4" x2="2615.4" y1="1754" y2="1881"/>
<line x1="3193.5" x2="3193.5" y1="1606.4" y2="1699.5"/>
<line x1="3193.5" x2="3193.5" y1="1754" y2="1881"/>
</g>
<g stroke="#d0d3d4" stroke-width="2">
<line x1="117.5" x2="3606.8" y1="1652.6" y2="1652.6"/>
<line x1="117.5" x2="3606.8" y1="1817" y2="1817"/>
<line x1="108" x2="3616" y1="1881" y2="1881"/>
</g>
<path d="M262.17,1629.55H285.97L274.07,1614.10Z" fill="#16a34a"/>
<path d="M374.00,1675.85H397.80L385.90,1691.30Z" fill="#dc2626"/>
<path d="M396.37,1629.55H420.17L408.27,1614.10Z" fill="#16a34a"/>
<path d="M463.47,1675.85H487.27L475.37,1691.30Z" fill="#dc2626"/>
<path d="M798.98,1629.55H822.78L810.88,1614.10Z" fill="#16a34a"/>
<path d="M977.91,1675.85H1001.71L989.81,1691.30Z" fill="#dc2626"/>
<path d="M1067.38,1629.55H1091.18L1079.28,1614.10Z" fill="#16a34a"/>
<path d="M1112.11,1675.85H1135.91L1124.01,1691.30Z" fill="#dc2626"/>
<path d="M1223.95,1629.55H1247.75L1235.85,1614.10Z" fill="#16a34a"/>
<path d="M1447.62,1675.85H1471.42L1459.52,1691.30Z" fill="#dc2626"/>
<path d="M1827.86,1629.55H1851.66L1839.76,1614.10Z" fill="#16a34a"/>
<path d="M2141.00,1675.85H2164.80L2152.90,1691.30Z" fill="#dc2626"/>
<path d="M2163.36,1629.55H2187.16L2175.26,1614.10Z" fill="#16a34a"/>
<path d="M2185.73,1675.85H2209.53L2197.63,1691.30Z" fill="#dc2626"/>
<path d="M2454.14,1629.55H2477.94L2466.04,1614.10Z" fill="#16a34a"/>
<path d="M2476.50,1675.85H2500.30L2488.40,1691.30Z" fill="#dc2626"/>
<path d="M2498.87,1629.55H2522.67L2510.77,1614.10Z" fill="#16a34a"/>
<path d="M2812.01,1675.85H2835.81L2823.91,1691.30Z" fill="#dc2626"/>
<path d="M2990.94,1629.55H3014.74L3002.84,1614.10Z" fill="#16a34a"/>
<path d="M3259.35,1675.85H3283.15L3271.25,1691.30Z" fill="#dc2626"/>
<path d="M3483.02,1629.55H3506.82L3494.92,1614.10Z" fill="#16a34a"/>
<path d="M3505.38,1675.85H3529.18L3517.28,1691.30Z" fill="#dc2626"/>
<path d="M3550.12,1629.55H3573.92L3562.02,1614.10Z" fill="#16a34a"/>
<g stroke="#8a8f90" stroke-width="2">
<line x1="280.6" x2="280.6" y1="1881" y2="1890"/>
<line x1="858.7" x2="858.7" y1="1881" y2="1890"/>
<line x1="1446.4" x2="1446.4" y1="1881" y2="1890"/>
<line x1="2027.7" x2="2027.7" y1="1881" y2="1890"/>
<line x1="2615.4" x2="2615.4" y1="1881" y2="1890"/>
<line x1="3193.5" x2="3193.5" y1="1881" y2="1890"/>
</g>
<g font-size="22" fill="#2b2b2b" text-anchor="middle">
<text x="280.6" y="1916.3">Jan 2023</text>
<text x="858.7" y="1916.3">Jul 2023</text>
<text x="1446.4" y="1916.3">Jan 2024</text>
<text x="2027.7" y="1916.3">Jul 2024</text>
<text x="2615.4" y="1916.3">Jan 2025</text>
<text x="3193.5" y="1916.3">Jul 2025</text>
</g>
<text x="3791" y="1827.6" font-size="24" fill="#888" text-anchor="end">source: sharemaestro.com</text>
<g font-size="24" fill="#2b2b2b">
<line x1="1041.0" x2="1101.0" y1="2125" y2="2125" stroke="#111" stroke-width="4"/>
<text x="1111.0" y="2133.5">Weekly Close</text>
<line x1="1290.7" x2="1350.7" y1="2125" y2="2125" stroke="#1f77b4" stroke-width="3" stroke-dasharray="18 18"/>
<text x="1360.7" y="2133.5">Baseline (0)</text>
<line x1="1523.7" x2="1583.7" y1="2125" y2="2125" stroke="#9370db" stroke-opacity="0.95" stroke-width="3" stroke-dasharray="6 6"/>
<text x="1593.7" y="2133.5">Top</text>
<line x1="1656.0" x2="1716.0" y1="2125" y2="2125" stroke="#e67e22" stroke-opacity="0.7" stroke-width="3" stroke-dasharray="6 6"/>
<text x="1726.0" y="2133.5">Bottom</text>
<path d="M1852.60,2130.45H1876.40L1864.50,2115.00Z" fill="#16a34a"/>
<text x="1904.5" y="2133.5">Flip Up (Red→Green)</text>
<path d="M2190.20,2120.35H2214.00L2202.10,2135.80Z" fill="#dc2626"/>
<text x="2242.1" y="2133.5">Flip Down (Green→Red)</text>
<circle cx="2574.5" cy="2125" r="10" fill="#228b22"/>
<text x="2614.5" y="2133.5">Positive</text>
<circle cx="2757.4" cy="2125" r="10" fill="#b22222"/>
<text x="2797.4" y="2133.5">Negative</text>
</g>
</svg>
</body></html>
